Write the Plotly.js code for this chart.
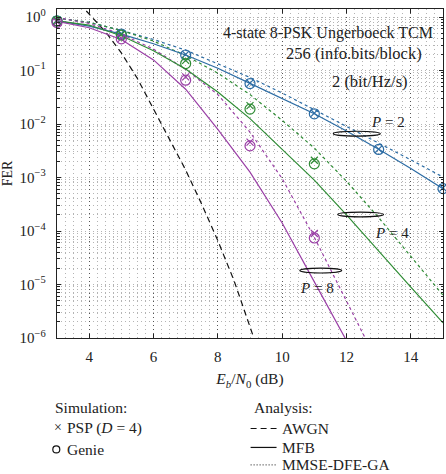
<!DOCTYPE html>
<html>
<head>
<meta charset="utf-8">
<script src="https://cdn.plot.ly/plotly-3.0.1.min.js"></script>
<style>
  html, body { margin: 0; padding: 0; background: #fff; }
  #chart { width: 446px; height: 474px; }
</style>
</head>
<body>
<div id="chart"></div>
<script>
// Frame error rate of 4-state 8-PSK Ungerboeck TCM over a P-path channel
const ebn0 = [3, 4, 5, 6, 7, 8, 9, 10, 11, 12, 13, 14, 15];

// Analysis: matched-filter bound (MFB)
const mfbP2 = [0.851, 0.676, 0.479, 0.316, 0.195, 0.110, 0.0575, 0.0302, 0.0155, 0.00741, 0.00339, 0.00148, 0.000617];
const mfbP4 = [0.851, 0.708, 0.447, 0.234, 0.107, 0.0398, 0.0126, 0.00339, 0.000891, 0.000200, 4.17e-5, 8.91e-6, 1.91e-6];
const ebn0P8 = [3, 4, 5, 6, 7, 8, 9, 10, 11, 12];
const mfbP8 = [0.832, 0.631, 0.380, 0.158, 0.0447, 0.00794, 0.00126, 0.000141, 1.12e-5, 8.91e-7];

// Analysis: MMSE-DFE with Gaussian approximation
const dfeP2 = [0.955, 0.794, 0.562, 0.380, 0.240, 0.135, 0.0741, 0.0380, 0.0186, 0.00891, 0.00447, 0.00214, 0.00102];
const dfeP4 = [0.955, 0.794, 0.562, 0.355, 0.191, 0.0891, 0.0355, 0.0117, 0.00355, 0.000851, 0.000178, 3.39e-5, 6.31e-6];
const ebn0DfeP8 = [3, 4, 5, 6, 7, 8, 9, 10, 11, 12, 13];
const dfeP8 = [0.977, 0.759, 0.479, 0.251, 0.105, 0.0355, 0.00708, 0.000955, 7.59e-5, 5.01e-6, 3.16e-7];

// Analysis: AWGN reference curve
const ebn0Awgn = [3.7, 3.9, 4.5, 5, 5.5, 6, 6.5, 7, 7.5, 8, 8.5, 9, 9.2];
const awgn = [1.78, 1.318, 0.537, 0.214, 0.0708, 0.0191, 0.00525, 0.00138, 0.000316, 6.61e-5, 1.20e-5, 1.66e-6, 7.24e-7];

// Simulation points
const simEbn0P2 = [3, 5, 7, 9, 11, 13, 15];
const genieP2 = [0.85, 0.48, 0.195, 0.057, 0.0155, 0.00335, 0.00062];
const pspP2 = [0.87, 0.49, 0.2, 0.058, 0.016, 0.0034, 0.00064];
const simEbn0 = [3, 5, 7, 9, 11];
const genieP4 = [0.84, 0.46, 0.135, 0.019, 0.0018];
const pspP4 = [0.86, 0.47, 0.155, 0.022, 0.0021];
const genieP8 = [0.79, 0.39, 0.066, 0.0039, 7.4e-5];
const pspP8 = [0.81, 0.40, 0.076, 0.0046, 9.0e-5];

// Axis tick labels
const yTickVals = [1e-6, 1e-5, 1e-4, 1e-3, 1e-2, 1e-1, 1];
const yTickText = ['10<sup>\u22126</sup>', '10<sup>\u22125</sup>', '10<sup>\u22124</sup>', '10<sup>\u22123</sup>',
                   '10<sup>\u22122</sup>', '10<sup>\u22121</sup>', '10<sup>0</sup>'];

// Key entries
const simKeyNames = ['PSP (<i>D</i> = 4)', 'Genie'];
const analysisKeyNames = ['AWGN', 'MFB', 'MMSE-DFE-GA'];

const FONT = 'Liberation Serif, Times New Roman, serif';
const BLUE = '#2c6ca4', GREEN = '#2f8c35', PURPLE = '#9a3fa6';
const TEXT = '#222';
const INK = '#111';
const GRID = '#b4b4b4';

// plot area in pixels, used to place the key below the axes
const M = { l: 56.7, r: 2.5, t: 8.5, b: 135.7 };
const PW = 446 - M.l - M.r, PH = 474 - M.t - M.b;
const px2x = (px) => (px - M.l) / PW;
const px2y = (py) => (474 - M.b - py) / PH;

function curve(x, y, color, dash) {
  return { x: x, y: y, mode: 'lines', type: 'scatter', showlegend: false, hoverinfo: 'skip',
           line: { color: color, width: 1.2, dash: dash } };
}
function sim(x, y, color, symbol, size) {
  return { x: x, y: y, mode: 'markers', type: 'scatter', showlegend: false, cliponaxis: false,
           marker: { symbol: symbol, size: size, color: color, line: { color: color, width: 1.2 } } };
}

const traces = [
  curve(ebn0Awgn, awgn, INK, '6px,4px'),
  curve(ebn0, dfeP2, BLUE, 'dot'),
  curve(ebn0, dfeP4, GREEN, 'dot'),
  curve(ebn0DfeP8, dfeP8, PURPLE, 'dot'),
  curve(ebn0, mfbP2, BLUE, 'solid'),
  curve(ebn0, mfbP4, GREEN, 'solid'),
  curve(ebn0P8, mfbP8, PURPLE, 'solid'),
  sim(simEbn0P2, genieP2, BLUE, 'circle-open', 10),
  sim(simEbn0, genieP4, GREEN, 'circle-open', 10),
  sim(simEbn0, genieP8, PURPLE, 'circle-open', 10),
  sim(simEbn0P2, pspP2, BLUE, 'x-thin-open', 7),
  sim(simEbn0, pspP4, GREEN, 'x-thin-open', 7),
  sim(simEbn0, pspP8, PURPLE, 'x-thin-open', 7)
];

// rings grouping the curves of each path count
function ring(xc, yc, halfW, halfDec) {
  return { type: 'circle', xref: 'x', yref: 'y', x0: xc - halfW, x1: xc + halfW,
           y0: yc * Math.pow(10, -halfDec), y1: yc * Math.pow(10, halfDec),
           line: { color: INK, width: 1.2 } };
}
function pLabel(text, x, logY) {
  return { text: text, x: x, y: logY, xref: 'x', yref: 'y', showarrow: false,
           font: { family: FONT, size: 15, color: TEXT } };
}
function note(text, x, y, size) {
  return { text: text, xref: 'paper', yref: 'paper', x: x, y: y, xanchor: 'right', yanchor: 'middle',
           showarrow: false, font: { family: FONT, size: size, color: TEXT } };
}
function keyText(text, pxLeft, pyMid, size) {
  return { text: text, xref: 'paper', yref: 'paper', x: px2x(pxLeft), y: px2y(pyMid),
           xanchor: 'left', yanchor: 'middle', showarrow: false, borderpad: 0,
           font: { family: FONT, size: size, color: TEXT } };
}
function keyLine(pxFrom, pxTo, py, dash, width) {
  return { type: 'line', xref: 'paper', yref: 'paper', x0: px2x(pxFrom), x1: px2x(pxTo),
           y0: px2y(py), y1: px2y(py), line: { color: INK, width: width, dash: dash } };
}

// key: Simulation column (left) and Analysis column (right)
const simRows = [428.5, 450];
const anaRows = [429, 448, 465.5];
const anaDashes = ['6px,4px', 'solid', '1px,2px'];

const keyAnnotations = [
  keyText('Simulation:', 54, 408, 15.5),
  keyText('\u00d7', 52.5, 428, 14),
  keyText(simKeyNames[0], 66, simRows[0], 15.5),
  keyText(simKeyNames[1], 66, simRows[1], 15.5),
  keyText('Analysis:', 253, 408, 15.5)
].concat(analysisKeyNames.map((n, i) => keyText(n, 281, anaRows[i], 15.5)));

const keyShapes = [
  { type: 'circle', xref: 'paper', yref: 'paper', x0: px2x(52.5), x1: px2x(59.5),
    y0: px2y(453.5), y1: px2y(446.5), line: { color: INK, width: 1.2 } }
].concat(anaRows.map((py, i) => keyLine(250.7, 276.7, py, anaDashes[i], i === 2 ? 1 : 1.2)));

const layout = {
  width: 446, height: 474,
  margin: M,
  paper_bgcolor: '#fff', plot_bgcolor: '#fff',
  font: { family: FONT, size: 14, color: TEXT },
  showlegend: false,
  xaxis: {
    type: 'linear', range: [3, 15], tick0: 0, dtick: 2,
    showline: true, linecolor: '#222', linewidth: 1.3, mirror: 'ticks',
    ticks: 'inside', ticklen: 4, tickcolor: '#222', ticklabelstandoff: 5,
    tickfont: { family: FONT, size: 15, color: TEXT },
    showgrid: true, gridcolor: '#555', griddash: '1px,3px', gridwidth: 1,
    minor: { dtick: 0.25, showgrid: true, gridcolor: GRID, griddash: '1px,3px', ticks: '' },
    zeroline: false,
    title: { text: '<i>E<sub>b</sub></i>/<i>N</i><sub>0</sub> (dB)', standoff: 9,
             font: { family: FONT, size: 15.5, color: TEXT } }
  },
  yaxis: {
    type: 'log', range: [-6, 0.15],
    tickmode: 'array', tickvals: yTickVals, ticktext: yTickText,
    showline: true, linecolor: '#222', linewidth: 1.3, mirror: 'ticks',
    ticks: 'inside', ticklen: 4, tickcolor: '#222', ticklabelstandoff: 7,
    tickfont: { family: FONT, size: 15, color: TEXT },
    showgrid: true, gridcolor: GRID, griddash: '1px,3px', gridwidth: 1,
    minor: { dtick: 'D1', showgrid: true, gridcolor: GRID, griddash: '1px,3px',
             ticks: 'inside', ticklen: 2.5, tickcolor: '#222' },
    zeroline: false,
    title: { text: 'FER', standoff: 8, font: { family: FONT, size: 14, color: TEXT } }
  },
  shapes: [
    ring(12.32, 6.6e-3, 0.73, 0.045),
    ring(12.44, 2.04e-4, 0.71, 0.045),
    ring(11.2, 1.82e-5, 0.65, 0.045)
  ].concat(keyShapes),
  annotations: [
    note('4-state 8-PSK Ungerboeck TCM', 0.979, 0.926, 16),
    note('256 (info.bits/block)', 0.952, 0.865, 16.5),
    note('2 (bit/Hz/s)', 0.915, 0.780, 16.5),
    pLabel('<i>P</i> = 2', 13.28, -1.97),
    pLabel('<i>P</i> = 4', 13.40, -4.04),
    pLabel('<i>P</i> = 8', 11.08, -5.07)
  ].concat(keyAnnotations)
};

Plotly.newPlot('chart', traces, layout, { displayModeBar: false, staticPlot: true });
</script>
</body>
</html>
